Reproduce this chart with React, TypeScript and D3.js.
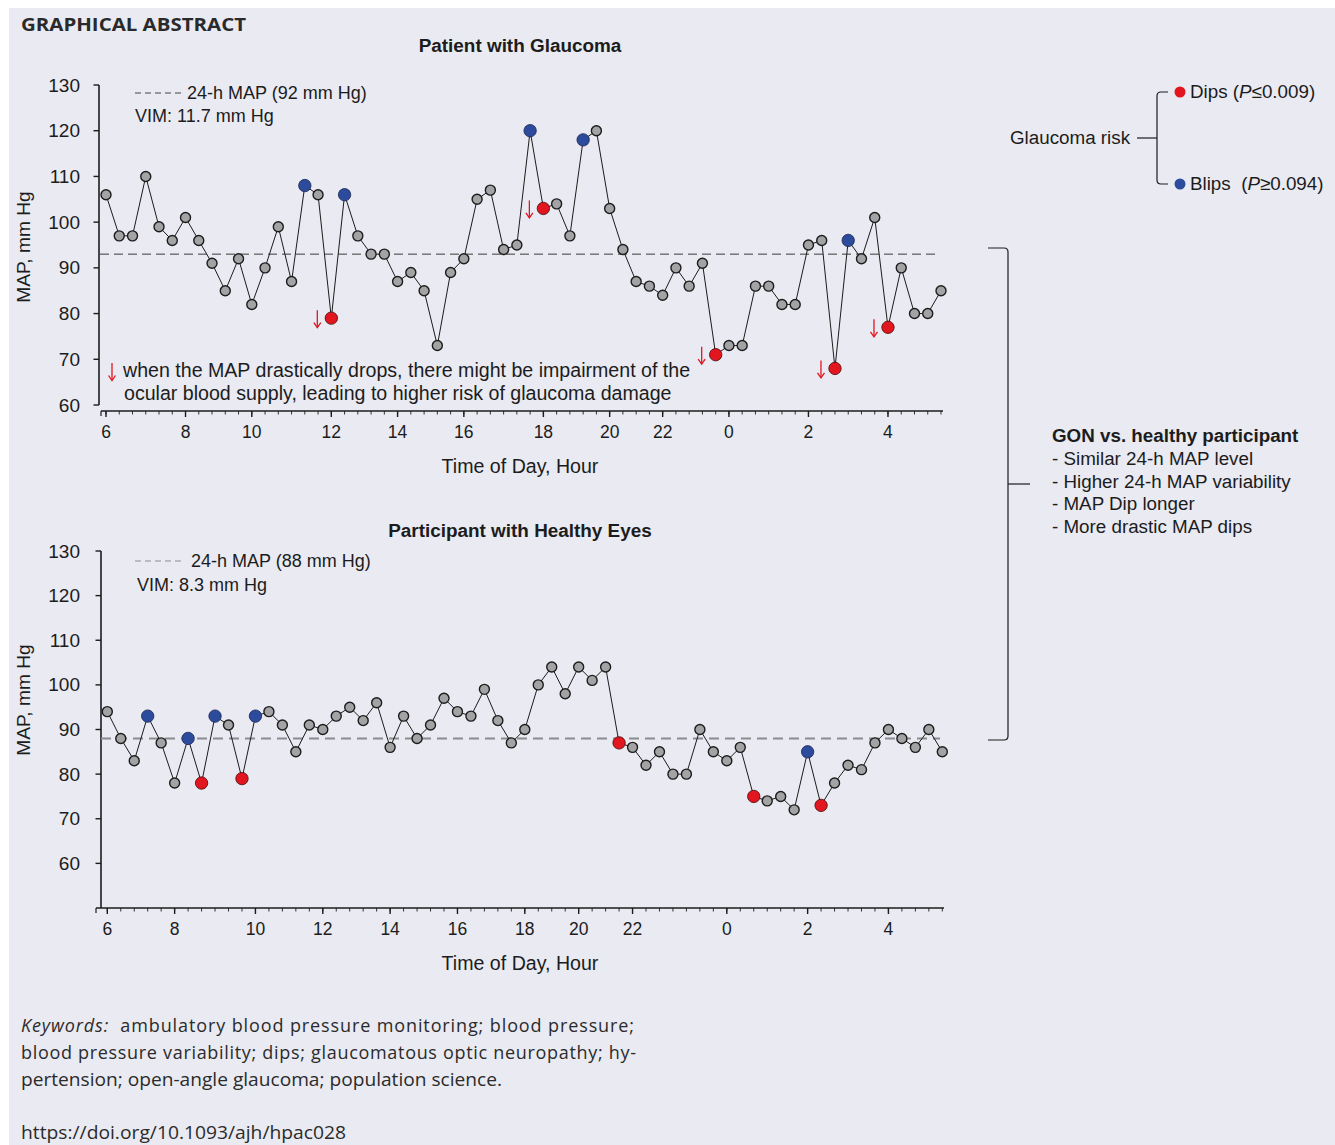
import React from 'react';
import * as d3 from 'd3';

// ---------- DATA ----------
const topValues = [106,97,97,110,99,96,101,96,91,85,92,82,90,99,87,108,106,79,106,97,93,93,87,89,85,73,89,92,105,107,94,95,120,103,104,97,118,120,103,94,87,86,84,90,86,91,71,73,73,86,86,82,82,95,96,68,96,92,101,77,90,80,80,85];
const topBlips = [15,18,32,36,56];
const topDips = [17,33,46,55,59];
const topMean = 93;
const topTickLabels = ['6','8','10','12','14','16','18','20','22','0','2','4'];
const topTickIdx = [0,6,11,17,22,27,33,38,42,47,53,59];

const bottomValues = [94,88,83,93,87,78,88,78,93,91,79,93,94,91,85,91,90,93,95,92,96,86,93,88,91,97,94,93,99,92,87,90,100,104,98,104,101,104,87,86,82,85,80,80,90,85,83,86,75,74,75,72,85,73,78,82,81,87,90,88,86,90,85];
const bottomBlips = [3,6,8,11,52];
const bottomDips = [7,10,38,48,53];
const bottomMean = 88;
const bottomTickLabels = ['6','8','10','12','14','16','18','20','22','0','2','4'];
const bottomTickIdx = [0,5,11,16,21,26,31,35,39,46,52,58];

const yTicks = [60,70,80,90,100,110,120,130];

const FONT = '"Liberation Sans", Arial, Helvetica, sans-serif';
const FONT2 = '"Open Sans", "Noto Sans", sans-serif';
const INK = '#1c1c1c';
const RED = '#e2161f';
const BLUE = '#2c4b9c';
const GRAY = '#a3a3a5';

type ChartProps = {
  values: number[];
  blips: number[];
  dips: number[];
  mean: number;
  tickLabels: string[];
  tickIdx: number[];
  xRange: [number, number];
  yDomain: [number, number];
  yRange: [number, number];
  yAxisX: number;
  yAxisTop: number;
  yAxisBottom: number;
  xAxisY: number;
  xAxisFrom: number;
  xAxisTo: number;
  arrows: boolean;
  meanColor: string;
  meanWidth: number;
  meanDash: string;
  meanFrom: number;
  meanTo: number;
  title: string;
  titleY: number;
  yLabelY: number;
};

function Chart(p: ChartProps) {
  const n = p.values.length;
  const x = d3.scaleLinear().domain([0, n - 1]).range(p.xRange);
  const y = d3.scaleLinear().domain(p.yDomain).range(p.yRange);
  const line = d3.line<number>().x((_, i) => x(i)).y(d => y(d));
  const blipSet = new Set(p.blips);
  const dipSet = new Set(p.dips);
  const minor = d3.range(0, n);
  const my = y(p.mean);
  return (
    <g>
      <text x={520} y={p.titleY} textAnchor="middle" fontFamily={FONT} fontWeight="bold" fontSize={18.9} fill={INK}>{p.title}</text>
      {/* y axis */}
      <line x1={p.yAxisX} x2={p.yAxisX} y1={p.yAxisTop} y2={p.yAxisBottom} stroke={INK} strokeWidth={1.6} />
      {yTicks.map(t => (
        <g key={t}>
          <line x1={p.yAxisX - 5.5} x2={p.yAxisX} y1={y(t)} y2={y(t)} stroke={INK} strokeWidth={1.4} />
          <text x={80} y={y(t) + 6.5} textAnchor="end" fontFamily={FONT} fontSize={19} fill={INK}>{t}</text>
        </g>
      ))}
      <text transform={`translate(30,${p.yLabelY}) rotate(-90)`} textAnchor="middle" fontFamily={FONT} fontSize={19.2} fill={INK}>MAP, mm Hg</text>
      {/* x axis */}
      <line x1={p.xAxisFrom} x2={p.xAxisTo} y1={p.xAxisY} y2={p.xAxisY} stroke={INK} strokeWidth={1.6} />
      <line x1={p.xAxisFrom} x2={p.xAxisFrom} y1={p.xAxisY} y2={p.xAxisY + 5} stroke={INK} strokeWidth={1.2} />
      {minor.map(i => (
        <line key={'m' + i} x1={x(i)} x2={x(i)} y1={p.xAxisY} y2={p.xAxisY + 3.5} stroke={INK} strokeWidth={0.9} />
      ))}
      {p.tickIdx.map((ti, k) => (
        <g key={'t' + k}>
          <line x1={x(ti)} x2={x(ti)} y1={p.xAxisY} y2={p.xAxisY + 6} stroke={INK} strokeWidth={1.4} />
          <text x={x(ti)} y={p.xAxisY + 27} textAnchor="middle" fontFamily={FONT} fontSize={17.5} fill={INK}>{p.tickLabels[k]}</text>
        </g>
      ))}
      <text x={520} y={p.xAxisY + 62} textAnchor="middle" fontFamily={FONT} fontSize={19.6} fill={INK}>Time of Day, Hour</text>
      {/* mean line */}
      <line x1={p.meanFrom} x2={p.meanTo} y1={my} y2={my} stroke={p.meanColor} strokeWidth={p.meanWidth} strokeDasharray={p.meanDash} />
      {/* series */}
      <path d={line(p.values) || ''} fill="none" stroke={INK} strokeWidth={1} />
      {p.values.map((v, i) => {
        if (blipSet.has(i)) return <circle key={i} cx={x(i)} cy={y(v)} r={6.2} fill={BLUE} stroke="#1b2550" strokeWidth={0.8} />;
        if (dipSet.has(i)) return <circle key={i} cx={x(i)} cy={y(v)} r={6.2} fill={RED} stroke="#4a0a0a" strokeWidth={0.8} />;
        return <circle key={i} cx={x(i)} cy={y(v)} r={5} fill={GRAY} stroke={INK} strokeWidth={1.4} />;
      })}
      {p.arrows && p.dips.map(i => (
        <Arrow key={'a' + i} x={x(i) - 14} y={y(p.values[i])} />
      ))}
    </g>
  );
}

function Arrow({ x, y }: { x: number; y: number }) {
  return (
    <g stroke={RED} strokeWidth={1.3} fill="none">
      <line x1={x} x2={x} y1={y - 8} y2={y + 9} />
      <path d={`M${x - 3.5},${y + 4.5} L${x},${y + 9.5} L${x + 3.5},${y + 4.5}`} />
    </g>
  );
}

export default function App() {
  return (
    <svg width={1335} height={1145} style={{ position: 'absolute', left: 0, top: 0 }}>
      <rect x={9} y={8} width={1326} height={1137} fill="#e9eaf2" />
      <text x={21} y={31} fontFamily={FONT2} fontWeight="bold" fontSize={18.5} fill="#2a2a2a" textLength={225} lengthAdjust="spacingAndGlyphs">GRAPHICAL ABSTRACT</text>

      <Chart values={topValues} blips={topBlips} dips={topDips} mean={topMean}
        tickLabels={topTickLabels} tickIdx={topTickIdx}
        xRange={[106, 941]} yDomain={[60, 130]} yRange={[405, 85]}
        yAxisX={99} yAxisTop={85} yAxisBottom={405} xAxisY={411} xAxisFrom={101} xAxisTo={943}
        arrows={true} meanColor="#3a3a3a" meanWidth={1} meanDash="9,5" meanFrom={100} meanTo={938}
        title="Patient with Glaucoma" titleY={52} yLabelY={247} />

      <Chart values={bottomValues} blips={bottomBlips} dips={bottomDips} mean={bottomMean}
        tickLabels={bottomTickLabels} tickIdx={bottomTickIdx}
        xRange={[107.3, 942.3]} yDomain={[50, 130]} yRange={[908, 551]}
        yAxisX={101} yAxisTop={551} yAxisBottom={908} xAxisY={908} xAxisFrom={96} xAxisTo={944}
        arrows={false} meanColor="#8c8c8e" meanWidth={2} meanDash="10,6" meanFrom={101} meanTo={940}
        title="Participant with Healthy Eyes" titleY={537} yLabelY={700} />

      {/* top annotations */}
      <line x1={135} x2={181} y1={93} y2={93} stroke="#444" strokeWidth={1} strokeDasharray="6,4" />
      <text x={187} y={99} fontFamily={FONT} fontSize={18} fill={INK}>24-h MAP (92 mm Hg)</text>
      <text x={135} y={122} fontFamily={FONT} fontSize={18} fill={INK}>VIM: 11.7 mm Hg</text>
      <Arrow x={112} y={371} />
      <text x={123} y={377} fontFamily={FONT} fontSize={19.6} fill={INK}>when the MAP drastically drops, there might be impairment of the</text>
      <text x={124} y={400} fontFamily={FONT} fontSize={19.6} fill={INK}>ocular blood supply, leading to higher risk of glaucoma damage</text>

      {/* bottom annotations */}
      <line x1={135} x2={184} y1={561} y2={561} stroke="#8c8c8e" strokeWidth={1.2} strokeDasharray="6,4" />
      <text x={191} y={567} fontFamily={FONT} fontSize={18} fill={INK}>24-h MAP (88 mm Hg)</text>
      <text x={137} y={591} fontFamily={FONT} fontSize={18} fill={INK}>VIM: 8.3 mm Hg</text>

      {/* legend */}
      <text x={1010} y={144} fontFamily={FONT} fontSize={18.8} fill={INK}>Glaucoma risk</text>
      <line x1={1137} x2={1157} y1={138} y2={138} stroke={INK} strokeWidth={1.2} />
      <path d="M1168,92 L1161,92 Q1157,92 1157,96 L1157,180 Q1157,184 1161,184 L1168,184" fill="none" stroke={INK} strokeWidth={1.2} />
      <circle cx={1180} cy={92} r={5.5} fill={RED} />
      <circle cx={1180} cy={184} r={5.5} fill={BLUE} />
      <text x={1190} y={98} fontFamily={FONT} fontSize={18.8} fill={INK}>Dips (<tspan fontStyle="italic">P</tspan>≤0.009)</text>
      <text x={1190} y={190} fontFamily={FONT} fontSize={18.8} fill={INK} xmlSpace="preserve">Blips  (<tspan fontStyle="italic">P</tspan>≥0.094)</text>

      {/* right bracket */}
      <path d="M988,248 L1004,248 Q1008,248 1008,252 L1008,736 Q1008,740 1004,740 L988,740" fill="none" stroke={INK} strokeWidth={1.2} />
      <line x1={1008} x2={1030} y1={484} y2={484} stroke={INK} strokeWidth={1.2} />
      <text x={1052} y={442} fontFamily={FONT} fontWeight="bold" fontSize={18.8} fill={INK}>GON vs. healthy participant</text>
      <text x={1052} y={465} fontFamily={FONT} fontSize={18.8} fill={INK}>- Similar 24-h MAP level</text>
      <text x={1052} y={488} fontFamily={FONT} fontSize={18.8} fill={INK}>- Higher 24-h MAP variability</text>
      <text x={1052} y={510} fontFamily={FONT} fontSize={18.8} fill={INK}>- MAP Dip longer</text>
      <text x={1052} y={533} fontFamily={FONT} fontSize={18.8} fill={INK}>- More drastic MAP dips</text>

      {/* keywords */}
      <text x={21} y={1032} fontFamily={FONT2} fontSize={18} fill="#2b2b2b" textLength={613} lengthAdjust="spacing" xmlSpace="preserve"><tspan fontStyle="italic">Keywords:</tspan>  ambulatory blood pressure monitoring; blood pressure;</text>
      <text x={21} y={1059} fontFamily={FONT2} fontSize={18} fill="#2b2b2b" textLength={615} lengthAdjust="spacing">blood pressure variability; dips; glaucomatous optic neuropathy; hy-</text>
      <text x={21} y={1086} fontFamily={FONT2} fontSize={18} fill="#2b2b2b" textLength={481} lengthAdjust="spacingAndGlyphs">pertension; open-angle glaucoma; population science.</text>
      <text x={21} y={1139} fontFamily={FONT2} fontSize={18} fill="#2b2b2b" textLength={325} lengthAdjust="spacingAndGlyphs">https://doi.org/10.1093/ajh/hpac028</text>
    </svg>
  );
}
